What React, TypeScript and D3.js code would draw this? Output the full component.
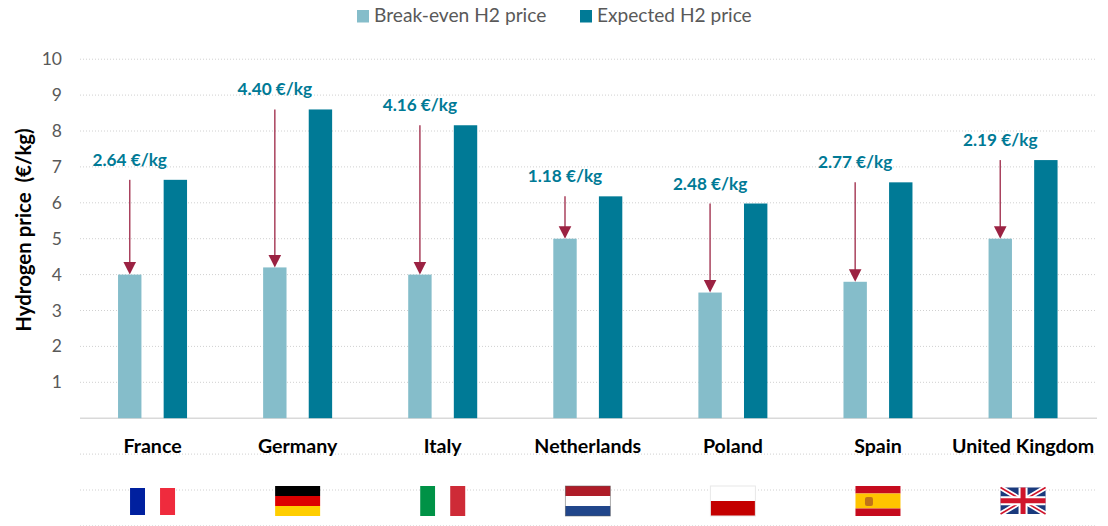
import React from "react";
import * as d3 from "d3";

const countries = ["France", "Germany", "Italy", "Netherlands", "Poland", "Spain", "United Kingdom"];
const breakEven = [4.0, 4.2, 4.0, 5.0, 3.5, 3.8, 5.0];
const expected = [6.64, 8.6, 8.16, 6.18, 5.98, 6.57, 7.19];
const gapLabels = ["2.64 €/kg", "4.40 €/kg", "4.16 €/kg", "1.18 €/kg", "2.48 €/kg", "2.77 €/kg", "2.19 €/kg"];
const seriesNames = ["Break-even H2 price", "Expected H2 price"];
const gridValues = [10, 9, 8, 7, 6, 5, 4, 3, 2, 1, -1, -2, -3];
const tickValues = [10, 9, 8, 7, 6, 5, 4, 3, 2, 1];

const LIGHT = "#85bdca";
const DARK = "#007a96";
const ARROW = "#9b2242";
const FONT = "Lato, Carlito, sans-serif";

const x = d3.scaleBand<string>().domain(countries).range([80, 1095.6]);
const sub = d3.scaleBand<string>().domain(seriesNames).range([-34.5, 34.5]).paddingInner(0.487);
const y = d3.scaleLinear().domain([0, 10]).range([418.2, 59.2]);

function Stripes({ cx, top, h, colors, vertical, w = 45 }: any) {
  const left = cx - w / 2;
  return (
    <g>
      {colors.map((c: string, i: number) =>
        vertical ? (
          <rect key={i} x={left + (i * w) / colors.length} y={top} width={w / colors.length} height={h} fill={c} />
        ) : (
          <rect key={i} x={left} y={top + (i * h) / colors.length} width={w} height={h / colors.length} fill={c} />
        )
      )}
    </g>
  );
}

function Flag({ name, cx }: { name: string; cx: number }) {
  if (name === "France") return <Stripes cx={cx} top={488} h={27} vertical colors={["#00209f", "#ffffff", "#ef2b3d"]} />;
  if (name === "Germany") return <Stripes cx={cx} top={486} h={30} colors={["#000000", "#dd0000", "#ffce00"]} />;
  if (name === "Italy") return <Stripes cx={cx} top={486} h={30} vertical colors={["#009246", "#ffffff", "#ce2b37"]} />;
  if (name === "Netherlands")
    return (
      <g>
        <Stripes cx={cx} top={486} h={30} colors={["#ae1c28", "#ffffff", "#21468b"]} />
        <rect x={cx - 22.5} y={486} width={45} height={30} fill="none" stroke="#555" strokeWidth={0.7} opacity={0.7} />
      </g>
    );
  if (name === "Poland")
    return (
      <g>
        <Stripes cx={cx} top={486} h={30} colors={["#ffffff", "#c40000"]} />
        <rect x={cx - 22.5} y={486} width={45} height={30} fill="none" stroke="#e8e8e8" strokeWidth={1} />
      </g>
    );
  if (name === "Spain")
    return (
      <g>
        <Stripes cx={cx} top={486} h={30} colors={["#c60b1e", "#ffc400", "#ffc400", "#c60b1e"]} />
        <rect x={cx - 13} y={497} width={8} height={9} rx={2} fill="#b5651d" opacity={0.85} />
      </g>
    );
  const l = cx - 22.5, r = cx + 22.5, t = 487.5, b = 514;
  return (
    <g>
      <rect x={l} y={t} width={45} height={b - t} fill="#1a3a7d" />
      <path d={`M${l},${t}L${r},${b}M${r},${t}L${l},${b}`} stroke="#fff" strokeWidth={5} />
      <path d={`M${l},${t}L${r},${b}M${r},${t}L${l},${b}`} stroke="#cf142b" strokeWidth={1.6} />
      <path d={`M${cx},${t}V${b}M${l},${(t + b) / 2}H${r}`} stroke="#fff" strokeWidth={9} />
      <path d={`M${cx},${t}V${b}M${l},${(t + b) / 2}H${r}`} stroke="#cf142b" strokeWidth={5} />
    </g>
  );
}

export default function App() {
  return (
    <svg width={1108} height={526} style={{ position: "absolute", left: 0, top: 0, display: "block", background: "#fff" }} fontFamily={FONT}>
      {/* legend */}
      <rect x={357} y={10} width={12} height={12.5} fill={LIGHT} />
      <text x={374} y={22} fontSize={19.2} fill="#595959">{seriesNames[0]}</text>
      <rect x={580} y={10} width={12} height={12.5} fill={DARK} />
      <text x={597} y={22} fontSize={19.1} fill="#595959">{seriesNames[1]}</text>

      {/* grid */}
      {gridValues.map((v) => (
        <line key={v} x1={80} x2={1097} y1={y(v)} y2={y(v)} stroke="#d0d0d0" strokeWidth={1} strokeDasharray="1 2" />
      ))}
      <line x1={80} x2={1097} y1={y(0)} y2={y(0)} stroke="#d9d9d9" strokeWidth={1.5} />

      {/* y ticks */}
      {tickValues.map((v) => (
        <text key={v} x={62} y={y(v) + 6} textAnchor="end" fontSize={17.5} fill="#595959">{v}</text>
      ))}
      <text transform={`translate(31,230) rotate(-90)`} textAnchor="middle" fontSize={20.4} fontWeight={700} fill="#000" xmlSpace="preserve">
        Hydrogen price  (€/kg)
      </text>

      {/* bars */}
      {countries.map((c, i) => {
        const cx = x(c)! + x.bandwidth() / 2;
        const bx = cx + sub(seriesNames[0])!;
        const dx = cx + sub(seriesNames[1])!;
        const w = sub.bandwidth();
        const ax = bx + w / 2;
        const yTop = y(expected[i]);
        const yLow = y(breakEven[i]);
        return (
          <g key={c}>
            <rect x={bx} y={yLow} width={w} height={y(0) - yLow} fill={LIGHT} />
            <rect x={dx} y={yTop} width={w} height={y(0) - yTop} fill={DARK} />
            <line x1={ax} x2={ax} y1={yTop} y2={yLow - 10} stroke={ARROW} strokeWidth={1.5} opacity={0.85} />
            <path d={`M${ax - 6.3},${yLow - 12.5}H${ax + 6.3}L${ax},${yLow}Z`} fill={ARROW} />
            <text x={ax} y={yTop - 14} textAnchor="middle" fontSize={17.2} fontWeight={700} fill={DARK}>{gapLabels[i]}</text>
            <text x={cx} y={453} textAnchor="middle" fontSize={19.6} fontWeight={700} fill="#000">{c}</text>
            <Flag name={c} cx={cx} />
          </g>
        );
      })}
    </svg>
  );
}
